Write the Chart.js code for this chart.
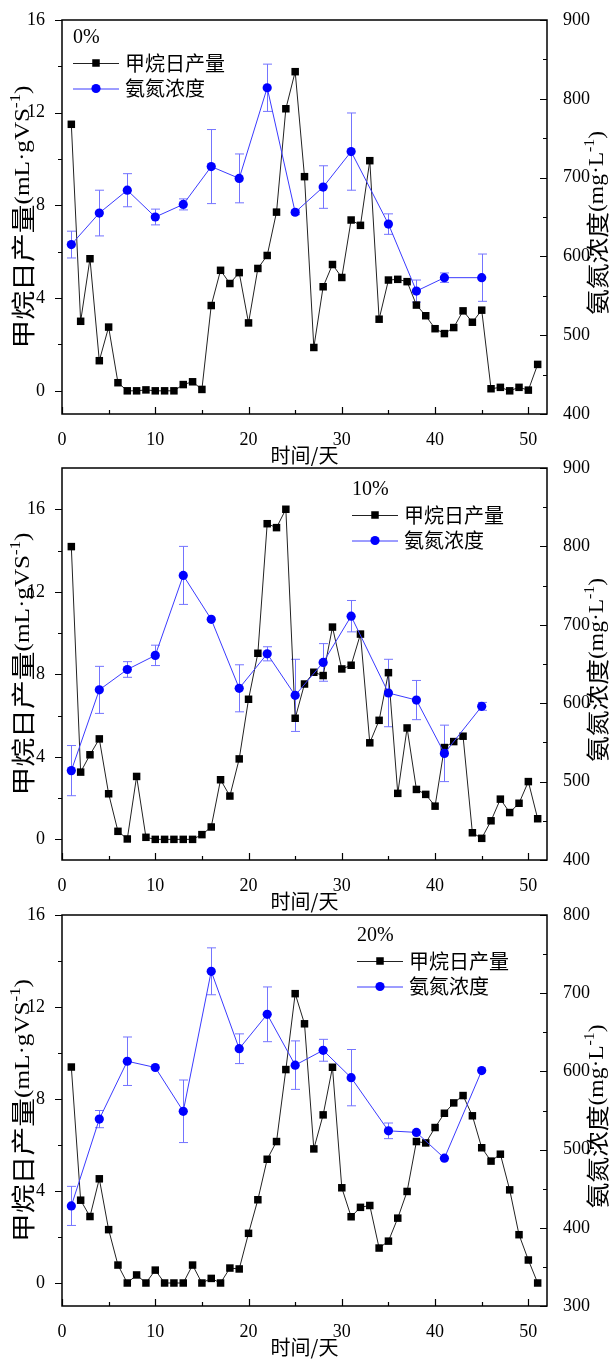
<!DOCTYPE html>
<html lang="zh">
<head>
    <meta charset="UTF-8">
    <title>甲烷日产量与氨氮浓度</title>
    <script src="https://cdn.jsdelivr.net/npm/chart.js"></script>
    <style>
        body {
            margin: 0;
            background: #fff;
        }
        #wrap {
            position: relative;
            width: 609px;
            height: 1361px;
        }
        canvas {
            position: absolute;
            left: 0;
        }
    </style>
</head>
<body>
<div id="wrap">
    <canvas id="p0" width="609" height="466" style="top:0px"></canvas>
    <canvas id="p10" width="609" height="466" style="top:448px"></canvas>
    <canvas id="p20" width="609" height="466" style="top:895px"></canvas>
</div>

<script>
    // 时间（天）
    const days = [];
    for (let d = 1; d <= 51; d++) days.push(d);

    // 甲烷日产量 mL·gVS-1
    const ch4_0 = [11.5, 3.0, 5.7, 1.3, 2.75, 0.35, 0, 0, 0.04, 0,
        0, 0, 0.27, 0.39, 0.06, 3.68, 5.2, 4.63, 5.1, 2.93,
        5.28, 5.84, 7.71, 12.17, 13.77, 9.24, 1.87, 4.49, 5.45, 4.89,
        7.37, 7.14, 9.93, 3.09, 4.78, 4.81, 4.71, 3.7, 3.24, 2.68,
        2.47, 2.73, 3.45, 2.96, 3.48, 0.09, 0.15, 0, 0.15, 0.03, 1.14];
    const ch4_10 = [14.19, 3.26, 4.1, 4.87, 2.21, 0.39, 0.02, 3.05, 0.1, 0,
        0, 0, 0, 0, 0.23, 0.6, 2.89, 2.1, 3.9, 6.79,
        9.02, 15.3, 15.11, 16.0, 5.87, 7.53, 8.1, 7.94, 10.29, 8.26,
        8.44, 9.95, 4.68, 5.77, 8.08, 2.23, 5.4, 2.42, 2.18, 1.61,
        4.45, 4.74, 5.0, 0.32, 0.05, 0.9, 1.95, 1.3, 1.75, 2.8, 1.0];
    const ch4_20 = [9.39, 3.6, 2.89, 4.53, 2.32, 0.78, 0, 0.35, 0, 0.56,
        0, 0, 0, 0.78, 0, 0.2, 0, 0.65, 0.61, 2.16,
        3.62, 5.38, 6.15, 9.28, 12.58, 11.27, 5.83, 7.31, 9.38, 4.14,
        2.88, 3.29, 3.37, 1.52, 1.82, 2.82, 3.98, 6.15, 6.09, 6.76,
        7.38, 7.83, 8.15, 7.27, 5.88, 5.3, 5.6, 4.05, 2.1, 1.0, 0];

    // 氨氮浓度 mg·L-1 及误差
    const nh3Days = [1, 4, 7, 10, 13, 16, 19, 22, 25, 28, 31, 35, 38, 41, 45];
    const nh3_0 = [615, 655, 684, 650, 666, 714, 699, 814, 656, 688, 733, 641, 556, 573, 573];
    const nh3Err_0 = [17, 29, 21, 10, 7, 47, 31, 30, 3, 27, 49, 13, 14, 6, 30];
    const nh3_10 = [514, 617, 643, 661, 763, 707, 619, 663, 610, 652, 711, 613, 604, 536, 596];
    const nh3Err_10 = [32, 30, 10, 13, 37, 0, 30, 9, 46, 24, 20, 43, 25, 36, 5];
    const nh3_20 = [428, 539, 613, 605, 549, 728, 629, 673, 608, 627, 592, 524, 522, 489, 601];
    const nh3Err_20 = [25, 11, 31, 0, 40, 30, 19, 35, 31, 14, 36, 10, 0, 0, 0];

    // 刻度
    const xTicks = [0, 5, 10, 15, 20, 25, 30, 35, 40, 45, 50];
    const leftTicks = [0, 2, 4, 6, 8, 10, 12, 14, 16];
    const rightTicksA = [400, 450, 500, 550, 600, 650, 700, 750, 800, 850, 900];
    const rightTicksB = [300, 350, 400, 450, 500, 550, 600, 650, 700, 750, 800];

    const CJK = '"Noto Sans CJK SC", sans-serif';
    const SERIF = '"Liberation Serif", "Times New Roman", serif';
    const BLACK = '#000000';
    const BLUE = '#0000ff';
    const BLUE_LINE = '#3a3aff';
    const ERR = '#7474ff';

    // 竖排轴标题：沿文字方向略拉长
    function drawRich(ctx, parts, cx, cy, rot, stretch) {
        ctx.save();
        ctx.translate(cx, cy);
        ctx.rotate(rot);
        ctx.scale(stretch, 1);
        let total = 0;
        parts.forEach(p => {
            ctx.font = p.font;
            p.w = ctx.measureText(p.t).width;
            total += p.w;
        });
        let x = -total / 2;
        ctx.textBaseline = 'middle';
        ctx.textAlign = 'left';
        ctx.fillStyle = '#000';
        parts.forEach(p => {
            ctx.font = p.font;
            ctx.fillText(p.t, x, p.dy || 0);
            x += p.w;
        });
        ctx.restore();
    }

    function drawMarker(ctx, style, x, y) {
        if (style === 'rect') {
            ctx.fillStyle = BLACK;
            ctx.fillRect(x - 3.75, y - 3.75, 7.5, 7.5);
        } else {
            ctx.fillStyle = BLUE;
            ctx.beginPath();
            ctx.arc(x, y, 4.6, 0, Math.PI * 2);
            ctx.fill();
        }
    }

    // 坐标框与刻度线（左轴朝外，右轴和底轴朝内）
    const axisFrame = {
        id: 'axisFrame',
        afterDraw(chart) {
            const {ctx, chartArea: a, scales} = chart;
            const major = 7, minor = 4;
            ctx.save();
            ctx.strokeStyle = '#000';
            ctx.lineWidth = 1.2;
            ctx.beginPath();
            scales.x.ticks.forEach(t => {
                const px = Math.round(scales.x.getPixelForValue(t.value)) + 0.5;
                const len = t.label ? major : minor;
                ctx.moveTo(px, a.bottom);
                ctx.lineTo(px, a.bottom - len);
            });
            scales.y.ticks.forEach(t => {
                const py = Math.round(scales.y.getPixelForValue(t.value)) + 0.5;
                const len = t.label ? major : minor;
                ctx.moveTo(a.left, py);
                ctx.lineTo(a.left - len, py);
            });
            scales.y1.ticks.forEach(t => {
                const py = Math.round(scales.y1.getPixelForValue(t.value)) + 0.5;
                const len = t.label ? major : minor;
                ctx.moveTo(a.right, py);
                ctx.lineTo(a.right - len, py);
            });
            ctx.stroke();
            ctx.lineWidth = 1.5;
            ctx.strokeRect(a.left, a.top, a.right - a.left, a.bottom - a.top);
            ctx.restore();
        }
    };

    // 误差棒
    const errorBars = {
        id: 'errorBars',
        beforeDatasetsDraw(chart) {
            const {ctx} = chart;
            const ys = chart.scales.y1;
            const xs = chart.scales.x;
            const opts = chart.options.plugins.errorBars;
            ctx.save();
            ctx.strokeStyle = ERR;
            ctx.lineWidth = 1;
            ctx.beginPath();
            opts.values.forEach((v, i) => {
                const e = opts.errors[i];
                if (!e) return;
                const x = Math.round(xs.getPixelForValue(nh3Days[i])) + 0.5;
                const y0 = ys.getPixelForValue(v - e);
                const y1 = ys.getPixelForValue(v + e);
                ctx.moveTo(x, y0);
                ctx.lineTo(x, y1);
                ctx.moveTo(x - 4.5, y0);
                ctx.lineTo(x + 4.5, y0);
                ctx.moveTo(x - 4.5, y1);
                ctx.lineTo(x + 4.5, y1);
            });
            ctx.stroke();
            ctx.restore();
        }
    };

    // 图例、轴标题
    const panelText = {
        id: 'panelText',
        afterDraw(chart) {
            const {ctx, chartArea: a} = chart;
            const o = chart.options.plugins.panelText;
            ctx.save();
            ctx.fillStyle = '#000';
            ctx.textBaseline = 'middle';
            ctx.textAlign = 'left';
            ctx.font = '20px ' + SERIF;
            ctx.fillText(o.title, o.x, o.y);

            const rows = [
                {label: '甲烷日产量', color: '#222', style: 'rect'},
                {label: '氨氮浓度', color: BLUE_LINE, style: 'circle'}
            ];
            rows.forEach((r, i) => {
                const y = o.y + 25 + i * 25.5;
                ctx.strokeStyle = r.color;
                ctx.lineWidth = 1;
                ctx.beginPath();
                ctx.moveTo(o.x, y + 0.5);
                ctx.lineTo(o.x + 46, y + 0.5);
                ctx.stroke();
                drawMarker(ctx, r.style, o.x + 23, y);
                ctx.fillStyle = '#000';
                ctx.font = '20px ' + CJK;
                ctx.fillText(r.label, o.x + 52, y);
            });

            const cy = (a.top + a.bottom) / 2;
            drawRich(ctx, [
                {t: '甲烷日产量', font: '24px ' + CJK},
                {t: '(mL·gVS', font: '21px ' + SERIF},
                {t: '-1', font: '14px ' + SERIF, dy: -7},
                {t: ')', font: '21px ' + SERIF}
            ], 23, cy, -Math.PI / 2, 1.2);
            drawRich(ctx, [
                {t: '氨氮浓度', font: '23px ' + CJK},
                {t: '(mg·L', font: '21px ' + SERIF},
                {t: '-1', font: '14px ' + SERIF, dy: -7},
                {t: ')', font: '21px ' + SERIF}
            ], 597, cy + 6, -Math.PI / 2, 1.12);

            ctx.font = '20px ' + CJK;
            ctx.textAlign = 'center';
            ctx.fillStyle = '#000';
            ctx.fillText('时间/天', (a.left + a.right) / 2, a.bottom + 41);
            ctx.restore();
        }
    };

    function fixSize(w, h) {
        return function (scale) {
            if (w !== null) scale.width = w;
            if (h !== null) scale.height = h;
        };
    }

    function setTicks(values) {
        return function (scale) {
            scale.ticks = values.map(v => ({value: v}));
        };
    }

    function makePanel(id, ch4, nh3, nh3Err, cfg) {
        const ctx = document.getElementById(id).getContext('2d');
        return new Chart(ctx, {
            type: 'line',
            data: {
                datasets: [{
                    label: '氨氮浓度',
                    data: nh3Days.map((d, i) => ({x: d, y: nh3[i]})),
                    yAxisID: 'y1',
                    borderColor: BLUE_LINE,
                    borderWidth: 1,
                    pointStyle: 'circle',
                    pointRadius: 4.6,
                    pointBackgroundColor: BLUE,
                    pointBorderWidth: 0,
                    tension: 0
                }, {
                    label: '甲烷日产量',
                    data: days.map((d, i) => ({x: d, y: ch4[i]})),
                    yAxisID: 'y',
                    borderColor: '#222',
                    borderWidth: 1,
                    pointStyle: 'rect',
                    pointRadius: 5.3,
                    pointBackgroundColor: BLACK,
                    pointBorderWidth: 0,
                    tension: 0
                }]
            },
            options: {
                responsive: false,
                animation: false,
                devicePixelRatio: 1,
                layout: {padding: {top: 20, left: 0, right: 0, bottom: 0}},
                plugins: {
                    legend: {display: false},
                    tooltip: {enabled: false},
                    errorBars: {values: nh3, errors: nh3Err},
                    panelText: cfg.legend
                },
                scales: {
                    x: {
                        type: 'linear',
                        min: 0,
                        max: 52,
                        grid: {display: false},
                        border: {display: false},
                        afterBuildTicks: setTicks(xTicks),
                        afterFit: fixSize(null, cfg.xHeight),
                        ticks: {
                            autoSkip: false,
                            maxRotation: 0,
                            padding: 7,
                            color: '#000',
                            font: {family: SERIF, size: 18},
                            callback: v => (v % 10 === 0 ? String(v) : '')
                        }
                    },
                    y: {
                        type: 'linear',
                        position: 'left',
                        min: -1,
                        max: cfg.leftMax,
                        grid: {display: false},
                        border: {display: false},
                        afterBuildTicks: setTicks(leftTicks),
                        afterFit: fixSize(62, null),
                        ticks: {
                            autoSkip: false,
                            padding: 9,
                            color: '#000',
                            font: {family: SERIF, size: 18},
                            callback: v => (v % 4 === 0 ? String(v) : '')
                        }
                    },
                    y1: {
                        type: 'linear',
                        position: 'right',
                        min: cfg.rightTicks[0],
                        max: cfg.rightTicks[cfg.rightTicks.length - 1],
                        grid: {display: false},
                        border: {display: false},
                        afterBuildTicks: setTicks(cfg.rightTicks),
                        afterFit: fixSize(62, null),
                        ticks: {
                            autoSkip: false,
                            padding: 8,
                            color: '#000',
                            font: {family: SERIF, size: 18},
                            callback: v => (v % 100 === 0 ? String(v) : '')
                        }
                    }
                }
            },
            plugins: [errorBars, axisFrame, panelText]
        });
    }

    makePanel('p0', ch4_0, nh3_0, nh3Err_0, {
        xHeight: 52, leftMax: 16, rightTicks: rightTicksA,
        legend: {title: '0%', x: 73, y: 38}
    });
    makePanel('p10', ch4_10, nh3_10, nh3Err_10, {
        xHeight: 54, leftMax: 18, rightTicks: rightTicksA,
        legend: {title: '10%', x: 352, y: 42}
    });
    makePanel('p20', ch4_20, nh3_20, nh3Err_20, {
        xHeight: 55, leftMax: 16, rightTicks: rightTicksB,
        legend: {title: '20%', x: 357, y: 41}
    });
</script>
</body>
</html>
